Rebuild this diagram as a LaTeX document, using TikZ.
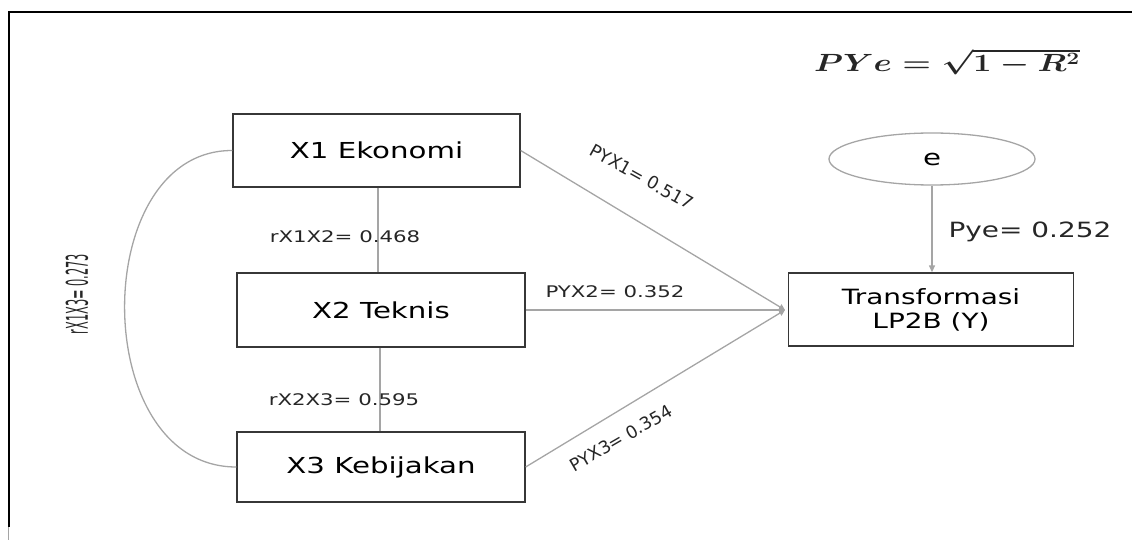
\documentclass[tikz,border=0pt]{standalone}
\usepackage{fontspec}
\usepackage{graphicx}
\setmainfont{DejaVu Sans}[FakeStretch=1.33]
\newfontfamily\plainfont{DejaVu Sans}
\newfontfamily\narrowfont{DejaVu Sans Condensed}
\usetikzlibrary{arrows.meta,shapes.geometric}
\definecolor{linegray}{RGB}{165,165,165}
\definecolor{boxgray}{RGB}{55,55,55}
\tikzset{
  varbox/.style={draw=boxgray, line width=1.3pt, fill=white, inner sep=0pt, align=center},
  conn/.style={draw=linegray, line width=1.3pt},
  pathlink/.style={conn, -{Triangle[length=6pt,width=6pt]}},
  lbl/.style={font=\fontsize{16}{18}\selectfont, text=black!85, inner sep=1pt},
  rlbl/.style={font=\plainfont\fontsize{17.5}{20}\selectfont, text=black!85, inner sep=1pt},
  big/.style={font=\fontsize{22}{24}\selectfont}
}
\begin{document}
\begin{tikzpicture}[x=1pt,y=-1pt]
\useasboundingbox (0,0) rectangle (1132,540);
% frame
\draw[black, line width=2pt] (1132,12.5) -- (8.5,12.5) -- (8.5,527);
\draw[linegray, line width=1pt] (8.5,527) -- (8.5,540);
% boxes
\node[varbox, big, minimum width=287pt, minimum height=73pt] (x1) at (376.5,150.5) {X1 Ekonomi};
\node[varbox, big, minimum width=288pt, minimum height=74pt] (x2) at (381,310) {X2 Teknis};
\node[varbox, big, minimum width=288pt, minimum height=70pt] (x3) at (381,467) {X3 Kebijakan};
\node[varbox, font=\fontsize{21}{24}\selectfont, minimum width=285pt, minimum height=73pt] (y) at (931,309.5) {Transformasi\\LP2B (Y)};
\node[draw=linegray, line width=1.3pt, ellipse, minimum width=206pt, minimum height=52pt, inner sep=0pt, big] (e) at (932,159) {e};
\coordinate (yin) at (785,310);
% correlations
\draw[conn] (x1.south -| 378,0) -- (x2.north -| 378,0);
\draw[conn] (x2.south -| 380,0) -- (x3.north -| 380,0);
\draw[conn] (x1.west) .. controls (88,150) and (88,467) .. (x3.west);
% paths
\draw[pathlink] (x1.east) -- (yin);
\draw[pathlink] (x2.east) -- (yin);
\draw[pathlink] (x3.east) -- (yin);
\draw[conn, -{Triangle[length=7pt,width=6pt]}] (e.south) -- (y.north -| e.south);
% labels
\node[lbl] (l12) at (345,237) {rX1X2= 0.468};
\node[lbl] (l23) at (344,400) {rX2X3= 0.595};
\node[lbl] (p2) at (615,292) {PYX2= 0.352};
\node[rlbl, rotate=-29] (p1) at (642,177) {PYX1= 0.517};
\node[rlbl, rotate=30] (p3) at (621,438) {PYX3= 0.354};
\node[font=\fontsize{21}{24}\selectfont, text=black!85, inner sep=0pt] (pye) at (1030,232) {Pye= 0.252};
\node[rotate=90, inner sep=0pt, text=black!85] (l13) at (77,294) {\scalebox{0.42}[1]{\narrowfont\fontsize{30}{32}\selectfont rX1X3= 0.273}};
\node[inner sep=0pt, text=black!85] (f) at (947,62) {\scalebox{1.32}[1]{\fontsize{24}{28}\selectfont\boldmath$PYe=\sqrt{1-R^2}$}};
\end{tikzpicture}
\end{document}
